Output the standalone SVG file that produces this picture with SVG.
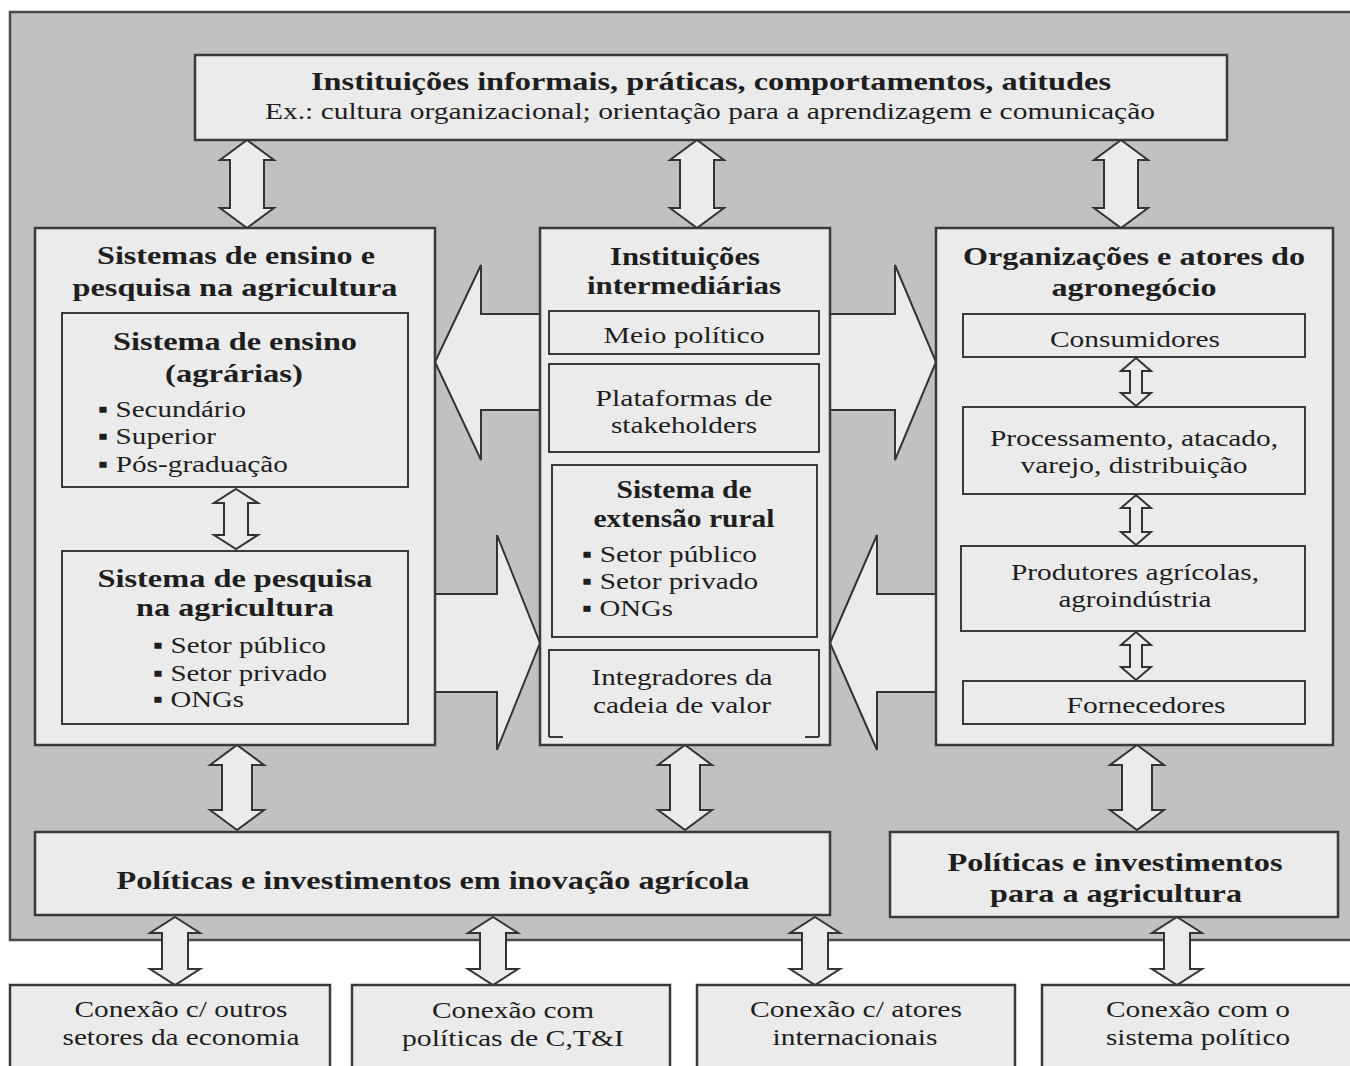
<svg xmlns="http://www.w3.org/2000/svg" width="1350" height="1066" viewBox="0 0 1350 1066">
<defs>
<style>
.bg{fill:#c1c1c1;stroke:#4a4a4a;stroke-width:2.5}
.box{fill:#ebebeb;stroke:#3a3a3a;stroke-width:2.5}
.inner{fill:#ebebeb;stroke:#3a3a3a;stroke-width:2}
.arr{fill:#ebebeb;stroke:#333;stroke-width:2;stroke-linejoin:miter}
.ln{fill:none;stroke:#3a3a3a;stroke-width:2}
text{font-family:"Liberation Serif","DejaVu Serif",serif;fill:#1e1e1e;font-size:24px}
.b{font-weight:bold;font-size:25px}
.m{text-anchor:middle}
</style>
</defs>
<rect x="0" y="0" width="1350" height="1066" fill="#ffffff"/>
<rect class="bg" x="10" y="12" width="1360" height="928"/>

<g id="connectors">
<path class="arr" d="M247,140 L274,160 L264,160 L264,208 L274,208 L247,228 L220,208 L230,208 L230,160 L220,160 Z"/>
<path class="arr" d="M697,140 L724,160 L714,160 L714,208 L724,208 L697,228 L670,208 L680,208 L680,160 L670,160 Z"/>
<path class="arr" d="M1121,140 L1148,160 L1138,160 L1138,208 L1148,208 L1121,228 L1094,208 L1104,208 L1104,160 L1094,160 Z"/>
<path class="arr" d="M237,745 L264,765 L252,765 L252,810 L264,810 L237,830 L210,810 L222,810 L222,765 L210,765 Z"/>
<path class="arr" d="M685,745 L712,765 L700,765 L700,810 L712,810 L685,830 L658,810 L670,810 L670,765 L658,765 Z"/>
<path class="arr" d="M1137,745 L1164,765 L1152,765 L1152,810 L1164,810 L1137,830 L1110,810 L1122,810 L1122,765 L1110,765 Z"/>
<path class="arr" d="M175,917 L200,933 L188,933 L188,969 L200,969 L175,985 L150,969 L162,969 L162,933 L150,933 Z"/>
<path class="arr" d="M493,917 L518,933 L506,933 L506,969 L518,969 L493,985 L468,969 L480,969 L480,933 L468,933 Z"/>
<path class="arr" d="M815,917 L840,933 L828,933 L828,969 L840,969 L815,985 L790,969 L802,969 L802,933 L790,933 Z"/>
<path class="arr" d="M1177,917 L1202,933 L1190,933 L1190,969 L1202,969 L1177,985 L1152,969 L1164,969 L1164,933 L1152,933 Z"/>
<path class="arr" d="M541,314 L481,314 L481,265 L435,362 L481,460 L481,410 L541,410"/>
<path class="arr" d="M829,314 L895,314 L895,265 L936,362 L895,460 L895,410 L829,410"/>
<path class="arr" d="M434,594 L497,594 L497,535 L540,643 L497,750 L497,692 L434,692"/>
<path class="arr" d="M937,594 L877,594 L877,535 L830,643 L877,750 L877,692 L937,692"/>
</g>

<g id="top-institutions">
<rect class="box" x="195" y="55" width="1032" height="85"/>
<text class="b m" x="711" y="90" textLength="800" lengthAdjust="spacingAndGlyphs">Instituições informais, práticas, comportamentos, atitudes</text>
<text class="m" x="710" y="119" textLength="890" lengthAdjust="spacingAndGlyphs">Ex.: cultura organizacional; orientação para a aprendizagem e comunicação</text>
</g>

<g id="ensino-pesquisa">
<rect class="box" x="35" y="228" width="400" height="517"/>
<text class="b m" x="236" y="264" textLength="278" lengthAdjust="spacingAndGlyphs">Sistemas de ensino e</text>
<text class="b m" x="235" y="296" textLength="325" lengthAdjust="spacingAndGlyphs">pesquisa na agricultura</text>
</g>
<g id="sistema-ensino">
<rect class="inner" x="62" y="313" width="346" height="174"/>
<text class="b m" x="235" y="350" textLength="244" lengthAdjust="spacingAndGlyphs">Sistema de ensino</text>
<text class="b m" x="234" y="382" textLength="138" lengthAdjust="spacingAndGlyphs">(agrárias)</text>
<text x="98" y="417" textLength="148" lengthAdjust="spacingAndGlyphs">▪ Secundário</text>
<text x="98" y="444" textLength="118" lengthAdjust="spacingAndGlyphs">▪ Superior</text>
<text x="98" y="472" textLength="190" lengthAdjust="spacingAndGlyphs">▪ Pós-graduação</text>
</g>
<g id="link-ensino-pesquisa">
<path class="arr" d="M236,489 L258,503 L248,503 L248,535 L258,535 L236,549 L214,535 L224,535 L224,503 L214,503 Z"/>
</g>
<g id="sistema-pesquisa">
<rect class="inner" x="62" y="551" width="346" height="173"/>
<text class="b m" x="235" y="587" textLength="275" lengthAdjust="spacingAndGlyphs">Sistema de pesquisa</text>
<text class="b m" x="235" y="616" textLength="198" lengthAdjust="spacingAndGlyphs">na agricultura</text>
<text x="153" y="653" textLength="173" lengthAdjust="spacingAndGlyphs">▪ Setor público</text>
<text x="153" y="681" textLength="174" lengthAdjust="spacingAndGlyphs">▪ Setor privado</text>
<text x="153" y="707" textLength="91" lengthAdjust="spacingAndGlyphs">▪ ONGs</text>
</g>

<g id="intermediarias">
<rect class="box" x="540" y="228" width="290" height="517"/>
<text class="b m" x="685" y="265" textLength="150" lengthAdjust="spacingAndGlyphs">Instituições</text>
<text class="b m" x="684" y="294" textLength="194" lengthAdjust="spacingAndGlyphs">intermediárias</text>
</g>
<g id="meio-politico">
<rect class="inner" x="549" y="311" width="270" height="43"/>
<text class="m" x="684" y="343" textLength="161" lengthAdjust="spacingAndGlyphs">Meio político</text>
</g>
<g id="plataformas">
<rect class="inner" x="549" y="364" width="270" height="88"/>
<text class="m" x="684" y="406" textLength="177" lengthAdjust="spacingAndGlyphs">Plataformas de</text>
<text class="m" x="684" y="433" textLength="146" lengthAdjust="spacingAndGlyphs">stakeholders</text>
</g>
<g id="extensao-rural">
<rect class="inner" x="552" y="465" width="265" height="172"/>
<text class="b m" x="684" y="498" textLength="135" lengthAdjust="spacingAndGlyphs">Sistema de</text>
<text class="b m" x="684" y="527" textLength="181" lengthAdjust="spacingAndGlyphs">extensão rural</text>
<text x="582" y="562" textLength="175" lengthAdjust="spacingAndGlyphs">▪ Setor público</text>
<text x="582" y="589" textLength="176" lengthAdjust="spacingAndGlyphs">▪ Setor privado</text>
<text x="582" y="616" textLength="91" lengthAdjust="spacingAndGlyphs">▪ ONGs</text>
</g>
<g id="integradores">
<path class="ln" d="M549,737 L549,650 L819,650 L819,737"/>
<path class="ln" d="M549,737 L563,737 M819,737 L805,737"/>
<text class="m" x="682" y="685" textLength="181" lengthAdjust="spacingAndGlyphs">Integradores da</text>
<text class="m" x="682" y="713" textLength="178" lengthAdjust="spacingAndGlyphs">cadeia de valor</text>
</g>

<g id="agronegocio">
<rect class="box" x="936" y="228" width="397" height="517"/>
<text class="b m" x="1134" y="265" textLength="342" lengthAdjust="spacingAndGlyphs">Organizações e atores do</text>
<text class="b m" x="1134" y="296" textLength="165" lengthAdjust="spacingAndGlyphs">agronegócio</text>
</g>
<g id="consumidores">
<rect class="inner" x="963" y="314" width="342" height="43"/>
<text class="m" x="1135" y="347" textLength="170" lengthAdjust="spacingAndGlyphs">Consumidores</text>
</g>
<g id="processamento">
<rect class="inner" x="963" y="407" width="342" height="87"/>
<text class="m" x="1134" y="446" textLength="288" lengthAdjust="spacingAndGlyphs">Processamento, atacado,</text>
<text class="m" x="1134" y="473" textLength="227" lengthAdjust="spacingAndGlyphs">varejo, distribuição</text>
</g>
<g id="produtores">
<rect class="inner" x="961" y="546" width="344" height="85"/>
<text class="m" x="1135" y="580" textLength="248" lengthAdjust="spacingAndGlyphs">Produtores agrícolas,</text>
<text class="m" x="1135" y="607" textLength="153" lengthAdjust="spacingAndGlyphs">agroindústria</text>
</g>
<g id="fornecedores">
<rect class="inner" x="963" y="681" width="342" height="43"/>
<text class="m" x="1146" y="713" textLength="159" lengthAdjust="spacingAndGlyphs">Fornecedores</text>
</g>
<g id="links-agronegocio">
<path class="arr" d="M1136,358 L1151,371 L1142,371 L1142,393 L1151,393 L1136,406 L1121,393 L1130,393 L1130,371 L1121,371 Z"/>
<path class="arr" d="M1136,495 L1151,508 L1142,508 L1142,532 L1151,532 L1136,545 L1121,532 L1130,532 L1130,508 L1121,508 Z"/>
<path class="arr" d="M1136,632 L1151,645 L1142,645 L1142,667 L1151,667 L1136,680 L1121,667 L1130,667 L1130,645 L1121,645 Z"/>
</g>

<g id="politicas-inovacao">
<rect class="box" x="35" y="832" width="795" height="83"/>
<text class="b m" x="433" y="889" textLength="633" lengthAdjust="spacingAndGlyphs">Políticas e investimentos em inovação agrícola</text>
</g>
<g id="politicas-agricultura">
<rect class="box" x="890" y="832" width="448" height="85"/>
<text class="b m" x="1115" y="871" textLength="335" lengthAdjust="spacingAndGlyphs">Políticas e investimentos</text>
<text class="b m" x="1116" y="902" textLength="252" lengthAdjust="spacingAndGlyphs">para a agricultura</text>
</g>

<g id="conexao-setores">
<rect class="box" x="10" y="985" width="320" height="90"/>
<text class="m" x="181" y="1017" textLength="213" lengthAdjust="spacingAndGlyphs">Conexão c/ outros</text>
<text class="m" x="181" y="1045" textLength="237" lengthAdjust="spacingAndGlyphs">setores da economia</text>
</g>
<g id="conexao-cti">
<rect class="box" x="352" y="985" width="318" height="90"/>
<text class="m" x="513" y="1018" textLength="162" lengthAdjust="spacingAndGlyphs">Conexão com</text>
<text class="m" x="513" y="1046" textLength="222" lengthAdjust="spacingAndGlyphs">políticas de C,T&amp;I</text>
</g>
<g id="conexao-internacionais">
<rect class="box" x="697" y="985" width="318" height="90"/>
<text class="m" x="856" y="1017" textLength="212" lengthAdjust="spacingAndGlyphs">Conexão c/ atores</text>
<text class="m" x="855" y="1045" textLength="165" lengthAdjust="spacingAndGlyphs">internacionais</text>
</g>
<g id="conexao-sistema-politico">
<rect class="box" x="1042" y="985" width="330" height="90"/>
<text class="m" x="1198" y="1017" textLength="184" lengthAdjust="spacingAndGlyphs">Conexão com o</text>
<text class="m" x="1198" y="1045" textLength="184" lengthAdjust="spacingAndGlyphs">sistema político</text>
</g>
</svg>
